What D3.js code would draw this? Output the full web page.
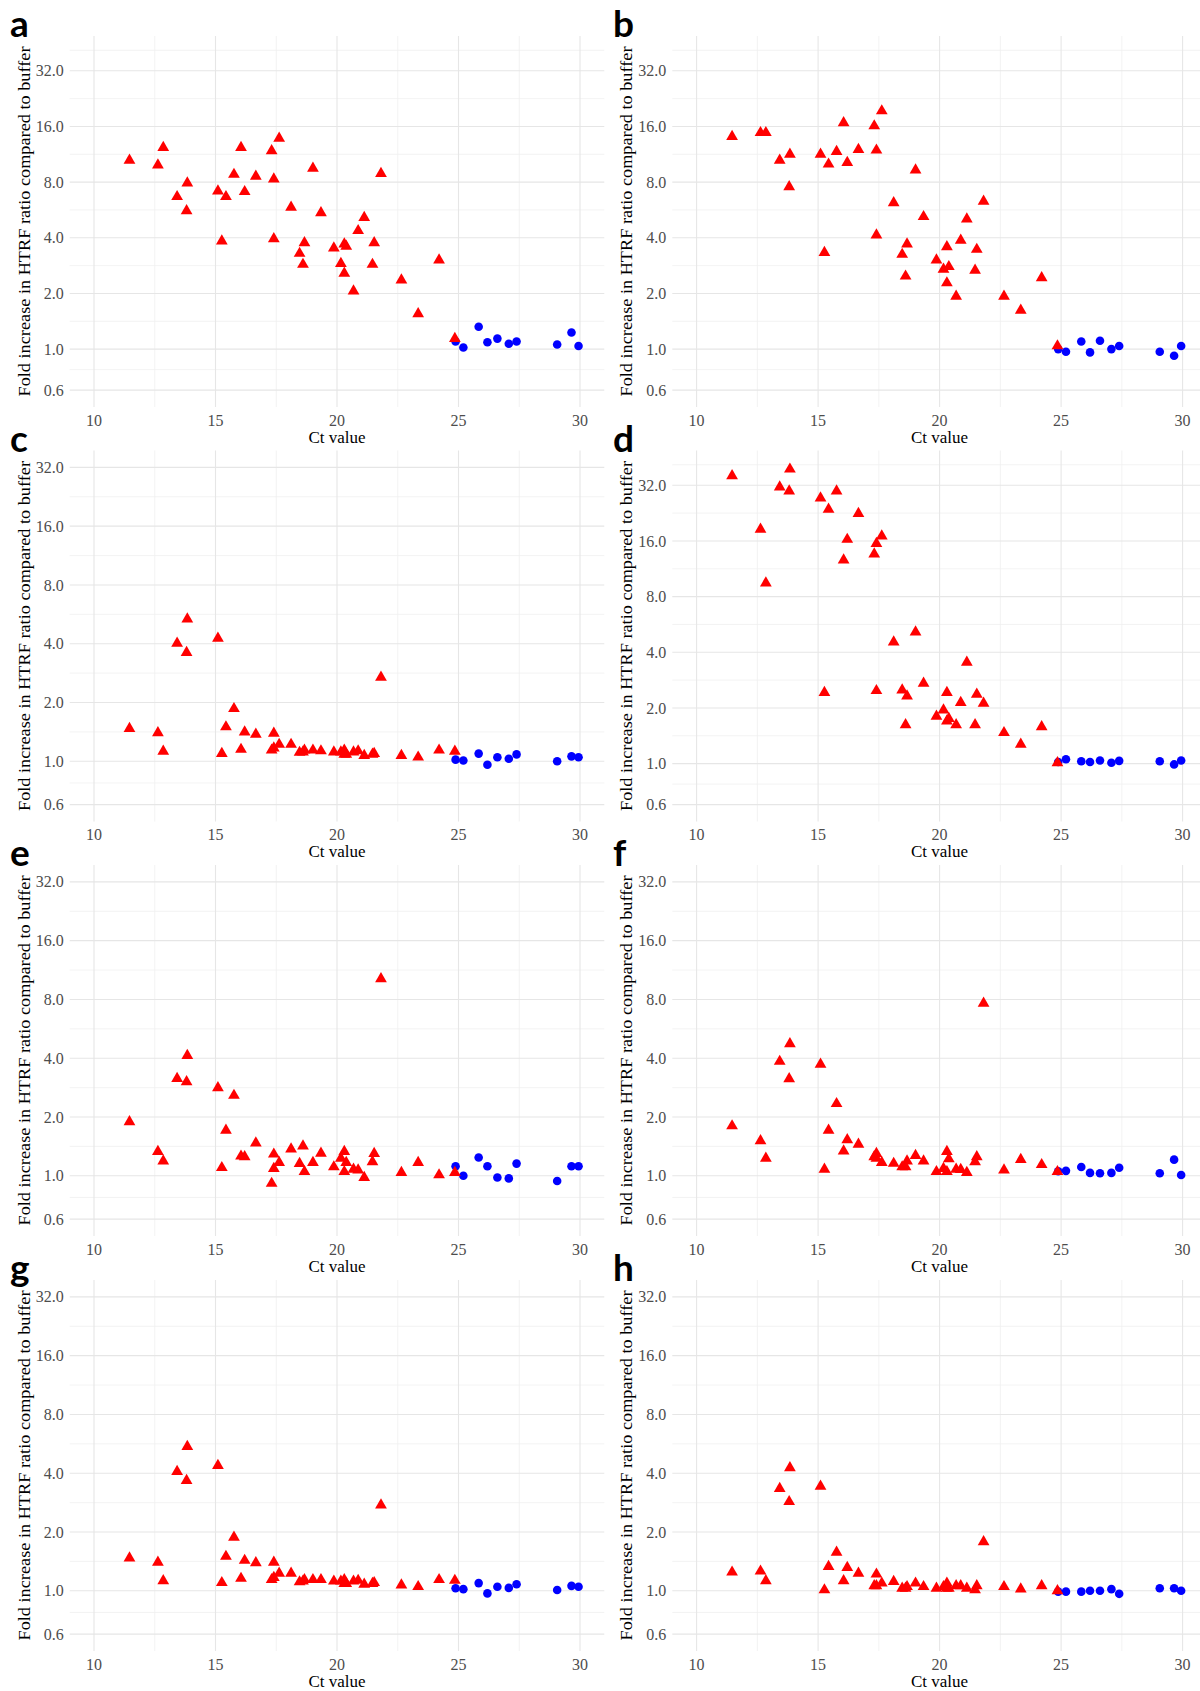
<!DOCTYPE html>
<html><head><meta charset="utf-8">
<script src="https://cdn.jsdelivr.net/npm/d3@7"></script>
<style>body{margin:0;background:#fff} svg{display:block}</style>
</head><body>
<script>
// ---- data ----
const ctPositive = [11.46,12.63,12.85,13.42,13.84,13.81,15.10,15.26,15.43,15.76,16.05,16.20,16.66,17.31,17.40,17.40,17.62,18.11,18.46,18.60,18.66,19.01,19.34,19.87,20.16,20.30,20.30,20.38,20.68,20.87,21.12,21.46,21.53,21.81,22.65,23.34,24.20,24.85];
const ctNegative = [24.88,25.20,25.83,26.19,26.60,27.07,27.39,29.06,29.65,29.94];

const posA = [10.5,9.9,12.3,6.67,7.9,5.6,7.15,3.84,6.67,8.8,12.3,7.1,8.6,11.8,8.3,3.95,13.8,5.84,3.29,2.87,3.76,9.5,5.46,3.52,2.9,3.7,2.57,3.6,2.06,4.37,5.15,2.87,3.76,8.9,2.36,1.55,3.03,1.14];
const posB = [14.1,14.8,14.8,10.5,11.3,7.55,11.3,3.33,10.0,11.7,16.75,10.2,12.0,16.1,11.9,4.14,19.4,6.18,3.25,2.48,3.7,9.3,5.2,3.03,2.7,3.57,2.28,2.79,1.93,3.88,5.05,2.67,3.46,6.3,1.93,1.62,2.43,1.04];
const posC = [1.47,1.40,1.125,4.02,5.35,3.6,4.26,1.095,1.5,1.86,1.15,1.41,1.375,1.14,1.39,1.17,1.22,1.22,1.11,1.115,1.14,1.14,1.13,1.115,1.115,1.14,1.085,1.085,1.115,1.13,1.07,1.085,1.095,2.69,1.07,1.05,1.14,1.125];
const posD = [36,18.5,9.48,31.3,39.1,29.8,27.3,2.42,23.7,29.8,12.6,16.3,22.5,13.6,15.5,2.48,17.0,4.54,2.5,1.62,2.32,5.14,2.72,1.8,1.95,2.42,1.7,1.75,1.62,2.14,3.53,1.62,2.37,2.12,1.47,1.27,1.58,1.01];
const posE = [1.89,1.33,1.19,3.15,4.13,3.03,2.82,1.10,1.71,2.58,1.26,1.25,1.47,0.914,1.29,1.09,1.17,1.37,1.156,1.42,1.05,1.17,1.305,1.11,1.23,1.33,1.05,1.17,1.08,1.07,0.98,1.18,1.30,10.2,1.04,1.17,1.01,1.04];
const posF = [1.80,1.51,1.23,3.85,4.74,3.14,3.72,1.08,1.71,2.34,1.34,1.53,1.45,1.25,1.30,1.23,1.17,1.157,1.11,1.11,1.19,1.27,1.19,1.05,1.09,1.33,1.05,1.22,1.08,1.077,1.04,1.18,1.25,7.65,1.07,1.21,1.14,1.05];
const posG = [1.47,1.40,1.125,4.08,5.48,3.67,4.38,1.10,1.5,1.88,1.157,1.43,1.39,1.14,1.40,1.17,1.23,1.23,1.11,1.12,1.14,1.14,1.14,1.12,1.12,1.14,1.09,1.09,1.12,1.13,1.08,1.09,1.10,2.75,1.07,1.05,1.14,1.13];
const posH = [1.245,1.26,1.125,3.34,4.26,2.86,3.43,1.01,1.33,1.575,1.125,1.315,1.23,1.06,1.216,1.06,1.094,1.116,1.03,1.03,1.05,1.094,1.05,1.03,1.05,1.094,1.03,1.03,1.06,1.06,1.03,1.01,1.06,1.78,1.05,1.02,1.06,1.0];

const negA = [1.1,1.02,1.32,1.09,1.14,1.07,1.1,1.06,1.23,1.04];
const negB = [1.0,0.967,1.1,0.96,1.11,1.0,1.04,0.967,0.92,1.04];
const negC = [1.02,1.01,1.095,0.96,1.05,1.03,1.085,1.0,1.06,1.05];
const negD = [1.02,1.055,1.03,1.02,1.04,1.01,1.035,1.03,0.99,1.04];
const negE = [1.12,1.0,1.24,1.12,0.98,0.97,1.155,0.94,1.12,1.12];
const negF = [1.055,1.06,1.11,1.035,1.03,1.035,1.1,1.03,1.21,1.01];
const negG = [1.03,1.02,1.095,0.97,1.05,1.035,1.08,1.01,1.06,1.05];
const negH = [0.99,0.99,0.99,1.0,1.0,1.02,0.965,1.03,1.03,1.0];

const panelLetters = ["a","b","c","d","e","f","g","h"];
const yTicks = [0.6,1,2,4,8,16,32];
const xTicks = [10,15,20,25,30];
const xLimits = [10,30];
const yLimitsWide = [0.6,40];
const yLimitsStd = [0.6,32];
const xTitle = "Ct value";
const yTitle = "Fold increase in HTRF ratio compared to buffer";

// ---- layout ----
const W = 1200, H = 1691;
const colLeft = [69.7, 672.3];
const panelW = 534.6;
const rowTop = [36, 450.5, 865, 1280];
const panelH = 371;
const serif = "'Liberation Serif', 'DejaVu Serif', 'Times New Roman', serif";

const svg = d3.select("body").append("svg").attr("width", W).attr("height", H);

const panels = [
  {pos: posA, neg: negA, lim: yLimitsWide},
  {pos: posB, neg: negB, lim: yLimitsWide},
  {pos: posC, neg: negC, lim: yLimitsStd},
  {pos: posD, neg: negD, lim: yLimitsWide},
  {pos: posE, neg: negE, lim: yLimitsStd},
  {pos: posF, neg: negF, lim: yLimitsStd},
  {pos: posG, neg: negG, lim: yLimitsStd},
  {pos: posH, neg: negH, lim: yLimitsStd}
];

const triSym = d3.symbol().type(d3.symbolTriangle).size(60);
const cirSym = d3.symbol().type(d3.symbolCircle).size(58);

panels.forEach((p, i) => {
  const col = i % 2, row = Math.floor(i / 2);
  const left = colLeft[col], top = rowTop[row];
  const right = left + panelW, bottom = top + panelH;

  const xr = xLimits[1] - xLimits[0];
  const x = d3.scaleLinear()
    .domain([xLimits[0] - 0.05 * xr, xLimits[1] + 0.05 * xr])
    .range([left, right]);
  const lo = Math.log2(p.lim[0]), hi = Math.log2(p.lim[1]);
  const pad = (hi - lo) * 0.05;
  const y = d3.scaleLog().base(2)
    .domain([Math.pow(2, lo - pad), Math.pow(2, hi + pad)])
    .range([bottom, top]);

  const g = svg.append("g");

  // minor grid positions (midpoints in transformed space)
  const tl = yTicks.map(Math.log2);
  const bdY = tl[1] - tl[0];
  const extY = [tl[0] - bdY, ...tl, tl[tl.length - 1] + bdY];
  const minorY = d3.pairs(extY).map(([a, b]) => Math.pow(2, (a + b) / 2))
    .filter(v => v >= y.domain()[0] && v <= y.domain()[1]);
  const bdX = xTicks[1] - xTicks[0];
  const extX = [xTicks[0] - bdX, ...xTicks, xTicks[xTicks.length - 1] + bdX];
  const minorX = d3.pairs(extX).map(([a, b]) => (a + b) / 2)
    .filter(v => v >= x.domain()[0] && v <= x.domain()[1]);

  g.selectAll(".mny").data(minorY).join("line")
    .attr("x1", left).attr("x2", right)
    .attr("y1", d => y(d)).attr("y2", d => y(d))
    .attr("stroke", "#f0f0f0").attr("stroke-width", 0.8);
  g.selectAll(".mnx").data(minorX).join("line")
    .attr("y1", top).attr("y2", bottom)
    .attr("x1", d => x(d)).attr("x2", d => x(d))
    .attr("stroke", "#f0f0f0").attr("stroke-width", 0.8);
  g.selectAll(".mjy").data(yTicks).join("line")
    .attr("x1", left).attr("x2", right)
    .attr("y1", d => y(d)).attr("y2", d => y(d))
    .attr("stroke", "#e6e6e6").attr("stroke-width", 1.1);
  g.selectAll(".mjx").data(xTicks).join("line")
    .attr("y1", top).attr("y2", bottom)
    .attr("x1", d => x(d)).attr("x2", d => x(d))
    .attr("stroke", "#e6e6e6").attr("stroke-width", 1.1);

  // points
  g.selectAll(".neg").data(ctNegative.map((c, k) => [c, p.neg[k]])).join("path")
    .attr("d", cirSym)
    .attr("transform", d => `translate(${x(d[0])},${y(d[1])})`)
    .attr("fill", "#0000ff");
  g.selectAll(".pos").data(ctPositive.map((c, k) => [c, p.pos[k]])).join("path")
    .attr("d", triSym)
    .attr("transform", d => `translate(${x(d[0])},${y(d[1])})`)
    .attr("fill", "#ff0000");

  // tick labels
  g.selectAll(".ylab").data(yTicks).join("text")
    .attr("x", left - 6).attr("y", d => y(d)).attr("dy", "0.35em")
    .attr("text-anchor", "end")
    .attr("font-family", serif).attr("font-size", 16).attr("fill", "#4d4d4d")
    .text(d => d3.format(".1f")(d));
  g.selectAll(".xlab").data(xTicks).join("text")
    .attr("x", d => x(d)).attr("y", bottom + 13).attr("dy", "0.35em")
    .attr("text-anchor", "middle")
    .attr("font-family", serif).attr("font-size", 16).attr("fill", "#4d4d4d")
    .text(d => d);

  // titles
  g.append("text")
    .attr("x", (left + right) / 2).attr("y", bottom + 30).attr("dy", "0.35em")
    .attr("text-anchor", "middle")
    .attr("font-family", serif).attr("font-size", 17).attr("fill", "#000")
    .text(xTitle);
  const ty = (top + bottom) / 2, tx = col === 0 ? 24 : 626;
  g.append("text")
    .attr("transform", `translate(${tx},${ty}) rotate(-90)`)
    .attr("dy", "0.35em")
    .attr("text-anchor", "middle")
    .attr("font-family", serif).attr("font-size", 17).attr("fill", "#000")
    .attr("textLength", 350).attr("lengthAdjust", "spacingAndGlyphs")
    .text(yTitle);

  // panel letter
  g.append("text")
    .attr("x", col === 0 ? 10 : 613).attr("y", top + 1)
    .attr("font-family", "Lato, 'Open Sans', sans-serif").attr("font-weight", 700)
    .attr("font-size", 37).attr("fill", "#000")
    .text(panelLetters[i]);
});
</script>
</body></html>
